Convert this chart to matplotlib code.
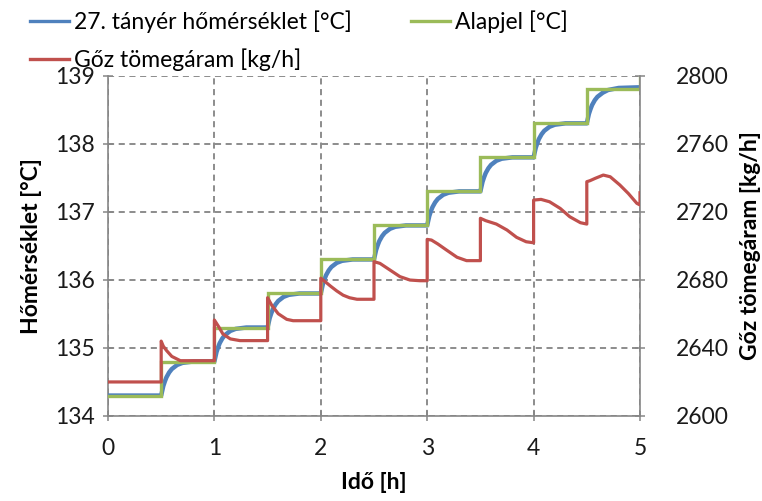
import matplotlib
matplotlib.use("Agg")
import matplotlib.pyplot as plt
from matplotlib.lines import Line2D

plt.rcParams['font.family'] = ['Lato', 'DejaVu Sans']

# Plate 27 temperature [°C]
temp_time = [
    0.0,
    0.5, 0.51, 0.52, 0.535, 0.55, 0.575, 0.6, 0.65, 0.7, 0.8,
    1.0, 1.01, 1.02, 1.035, 1.05, 1.075, 1.1, 1.15, 1.2, 1.3,
    1.5, 1.51, 1.52, 1.535, 1.55, 1.575, 1.6, 1.65, 1.7, 1.8,
    2.0, 2.01, 2.02, 2.035, 2.05, 2.075, 2.1, 2.15, 2.2, 2.3,
    2.5, 2.51, 2.52, 2.535, 2.55, 2.575, 2.6, 2.65, 2.7, 2.8,
    3.0, 3.01, 3.02, 3.035, 3.05, 3.075, 3.1, 3.15, 3.2, 3.3,
    3.5, 3.51, 3.52, 3.535, 3.55, 3.575, 3.6, 3.65, 3.7, 3.8,
    4.0, 4.01, 4.02, 4.035, 4.05, 4.075, 4.1, 4.15, 4.2, 4.3,
    4.5, 4.51, 4.52, 4.535, 4.55, 4.575, 4.6, 4.65, 4.7, 4.8,
    5.0,
]
temp_value = [
    134.30,
    134.30, 134.37, 134.44, 134.51, 134.57, 134.64, 134.69, 134.75, 134.78, 134.80,
    134.80, 134.87, 134.94, 135.01, 135.07, 135.14, 135.19, 135.25, 135.28, 135.30,
    135.30, 135.37, 135.44, 135.51, 135.57, 135.64, 135.69, 135.75, 135.78, 135.80,
    135.80, 135.87, 135.94, 136.01, 136.07, 136.14, 136.19, 136.25, 136.28, 136.30,
    136.30, 136.37, 136.44, 136.51, 136.57, 136.64, 136.69, 136.75, 136.78, 136.80,
    136.80, 136.87, 136.94, 137.01, 137.07, 137.14, 137.19, 137.25, 137.28, 137.30,
    137.30, 137.37, 137.44, 137.51, 137.57, 137.64, 137.69, 137.75, 137.78, 137.80,
    137.80, 137.87, 137.94, 138.01, 138.07, 138.14, 138.19, 138.25, 138.28, 138.30,
    138.30, 138.37, 138.44, 138.51, 138.57, 138.64, 138.69, 138.75, 138.79, 138.82,
    138.83,
]

# Setpoint [°C] (step changes every half hour)
sp_time = [0.0, 0.5, 0.5, 1.0, 1.0, 1.5, 1.5, 2.0, 2.0, 2.5, 2.5,
           3.0, 3.0, 3.5, 3.5, 4.0, 4.0, 4.5, 4.5, 5.0, 5.0]
sp_value = [134.3, 134.3, 134.8, 134.8, 135.3, 135.3, 135.8, 135.8, 136.3, 136.3, 136.8,
            136.8, 137.3, 137.3, 137.8, 137.8, 138.3, 138.3, 138.8, 138.8, 139.3]

# Steam mass flow [kg/h]
steam_time = [
    0.0, 0.5,
    0.5, 0.52, 0.55, 0.6, 0.68, 1.0,
    1.0, 1.04, 1.08, 1.15, 1.24, 1.5,
    1.5, 1.54, 1.6, 1.68, 1.74, 2.0,
    2.0, 2.04, 2.09, 2.15, 2.21, 2.27, 2.34, 2.5,
    2.5, 2.556, 2.65, 2.744, 2.838, 2.932, 3.0,
    3.0, 3.04, 3.10, 3.18, 3.28, 3.37, 3.5,
    3.5, 3.55, 3.65, 3.75, 3.84, 3.93, 4.0,
    4.0, 4.07, 4.15, 4.25, 4.34, 4.44, 4.5,
    4.5, 4.53, 4.58, 4.655, 4.72, 4.81, 4.89, 4.97, 5.0,
    5.0,
]
steam_value = [
    2620.0, 2620.0,
    2644.0, 2641.0, 2638.5, 2635.0, 2632.5, 2632.5,
    2656.4, 2652.5, 2648.2, 2645.3, 2644.3, 2644.3,
    2669.5, 2665.0, 2660.1, 2656.8, 2656.0, 2656.0,
    2681.0, 2679.0, 2676.4, 2673.5, 2671.0, 2669.5, 2668.6, 2668.6,
    2690.7, 2689.7, 2685.8, 2681.9, 2679.9, 2679.5, 2679.5,
    2703.8, 2703.4, 2701.1, 2697.6, 2693.3, 2691.3, 2691.3,
    2716.2, 2714.8, 2712.8, 2709.3, 2705.0, 2702.4, 2701.8,
    2726.9, 2727.3, 2725.9, 2722.0, 2717.1, 2713.6, 2712.8,
    2737.7, 2738.3, 2739.7, 2741.6, 2740.6, 2735.8, 2730.8, 2725.0, 2724.0,
    2731.2,
]

x_ticks = [0, 1, 2, 3, 4, 5]
temp_ticks = [134, 135, 136, 137, 138, 139]
steam_ticks = [2600, 2640, 2680, 2720, 2760, 2800]

BLUE = '#4F81BD'
GREEN = '#9BBB59'
RED = '#C0504D'
AXIS = '#868686'
GRID = '#6E6E6E'
FS = 16.5

fig = plt.figure(figsize=(7.62, 5.01), dpi=100)
ax = fig.add_axes([0.1417, 0.1697, 0.6982, 0.6792])
ax2 = ax.twinx()

ax.plot(temp_time, temp_value, color=BLUE, lw=3.2, solid_joinstyle='round', zorder=3)
ax.plot(sp_time, sp_value, color=GREEN, lw=2.4, solid_joinstyle='miter', zorder=4)
ax2.plot(steam_time, steam_value, color=RED, lw=2.3, solid_joinstyle='round', zorder=5)

ax.set_xlim(0, 5)
ax.set_ylim(134, 139)
ax2.set_ylim(2600, 2800)
ax.set_xticks(x_ticks)
ax.set_yticks(temp_ticks)
ax2.set_yticks(steam_ticks)

ax.grid(True, color=GRID, linestyle=(0, (4, 3)), linewidth=1.1)
ax.set_axisbelow(True)

for a in (ax, ax2):
    a.spines['top'].set_visible(False)
    for s in ('left', 'right', 'bottom'):
        a.spines[s].set_color(AXIS)
        a.spines[s].set_linewidth(1.2)
    a.tick_params(direction='inout', length=7, width=1.1, color=AXIS,
                  labelsize=FS, labelcolor='#1a1a1a', pad=6)
ax.tick_params(axis='x', pad=12)
ax2.tick_params(axis='y', pad=22)
ax.spines['right'].set_visible(False)
ax2.spines['left'].set_visible(False)
ax2.spines['bottom'].set_visible(False)

ax.set_xlabel('Idő [h]', fontsize=FS, fontweight='bold', labelpad=10)
ax.set_ylabel('Hőmérséklet [°C]', fontsize=FS, fontweight='bold', labelpad=9)
ax2.set_ylabel('Gőz tömegáram [kg/h]', fontsize=FS, fontweight='bold', labelpad=8)

handles = [Line2D([], [], color=BLUE, lw=2.4),
           Line2D([], [], color=RED, lw=2.4),
           Line2D([], [], color=GREEN, lw=2.4)]
labels = ['27. tányér hőmérséklet [°C]', 'Gőz tömegáram [kg/h]', 'Alapjel [°C]']
fig.legend(handles, labels, loc='upper left', bbox_to_anchor=(0.018, 1.012),
           ncol=2, frameon=False, fontsize=FS, handlelength=1.7,
           handletextpad=0.25, columnspacing=2.55, labelspacing=0.68,
           borderpad=0.2)

fig.savefig('out.png', dpi=100)
